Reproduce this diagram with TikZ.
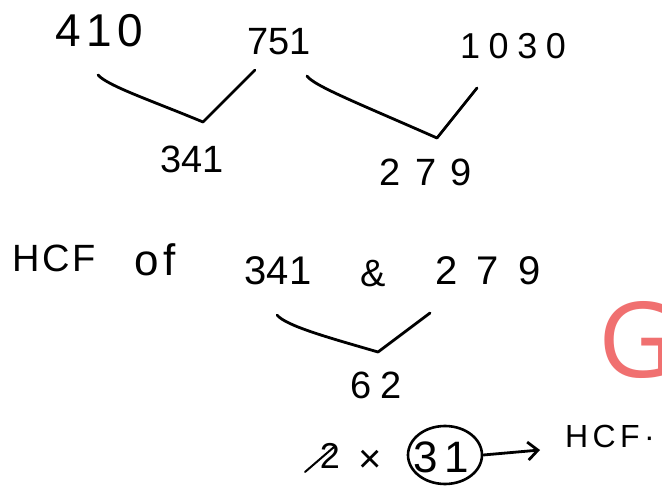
\documentclass[tikz,border=0pt]{standalone}
\usepackage{fontspec}
\setmainfont{Liberation Sans}
\newfontfamily\gfont{Open Sans}
\usetikzlibrary{shapes.geometric,arrows.meta}
\definecolor{gcol}{RGB}{240,112,112}
\begin{document}
\begin{tikzpicture}[x=1pt,y=-1pt,
  num/.style={inner sep=0pt, font=\fontsize{38}{42}\selectfont},
  tick/.style={line width=2.8pt, line cap=round, line join=round}]
\fill[white] (0,0) rectangle (662,486);
\useasboundingbox (0,0) rectangle (662,486);
\begin{scope}
\clip (0,0) rectangle (662,486);
\node[text=gcol, font=\gfont\fontsize{105}{110}\selectfont, anchor=west, inner sep=0pt] (g) at (598,340) {G};
\end{scope}
% top row
\node[inner sep=0pt, font=\fontsize{46}{50}\selectfont\addfontfeature{LetterSpace=12}] (n410) at (99,31) {410};
\node[num] (n751) at (279,42) {751};
\node[inner sep=0pt, font=\fontsize{36}{40}\selectfont\addfontfeature{LetterSpace=24}] (n1030) at (513,46) {1030};
\node[num] (n341a) at (192,159) {341};
\node[inner sep=0pt, font=\fontsize{38}{42}\selectfont\addfontfeature{LetterSpace=38}] (n279a) at (426,172) {279};
\coordinate (a1) at (98,75);
\coordinate (b1) at (203,122);
\coordinate (c1) at (255,70);
\coordinate (a2) at (307,76);
\coordinate (b2) at (437,138);
\coordinate (c2) at (477,88);
\draw[tick] (a1) .. controls (108,86) and (150,100) .. (b1) -- (c1);
\draw[tick] (a2) .. controls (314,86) and (360,104) .. (b2) -- (c2);
% HCF row
\node[inner sep=0pt, font=\fontsize{38}{42}\selectfont\addfontfeature{LetterSpace=6}] (hcf) at (54,258) {HCF};
\node[inner sep=0pt, font=\fontsize{44}{48}\selectfont\addfontfeature{LetterSpace=12}] (of) at (155,260) {of};
\node[inner sep=0pt, font=\fontsize{40}{44}\selectfont] (n341b) at (278,271) {341};
\node[num] (amp) at (373,274) {\&};
\node[inner sep=0pt, font=\fontsize{40}{44}\selectfont\addfontfeature{LetterSpace=48}] (n279b) at (488,271) {279};
\coordinate (a3) at (277,315);
\coordinate (b3) at (378,352);
\coordinate (c3) at (430,313);
\draw[tick] (a3) .. controls (286,326) and (330,338) .. (b3) -- (c3);
\node[inner sep=0pt, font=\fontsize{38}{42}\selectfont\addfontfeature{LetterSpace=22}] (n62) at (376,385) {62};
% bottom line
\node[inner sep=0pt, font=\fontsize{36}{40}\selectfont] (two) at (330,456) {2};
\coordinate (s1) at (305,472);
\coordinate (s2) at (334,447);
\draw[line width=2pt, line cap=round] (s1) -- (s2);
\node[inner sep=0pt, font=\fontsize{40}{44}\selectfont] (times) at (370,461) {×};
\node[ellipse, draw, line width=2.6pt, minimum width=74pt, minimum height=58pt, inner sep=0pt] (c31) at (445,455) {};
\node[inner sep=0pt, font=\fontsize{44}{48}\selectfont\addfontfeature{LetterSpace=15}] (t31) at (441,457) {31};
\coordinate (arrend) at (540,450);
\draw[line width=2.8pt, line cap=round, -{Straight Barb[length=10pt, width=18pt, line width=2.8pt]}] (c31.east) -- (arrend);
\node[inner sep=0pt, font=\fontsize{32}{36}\selectfont\addfontfeature{LetterSpace=14}] (hcf2) at (610,436) {HCF·};
\end{tikzpicture}
\end{document}
